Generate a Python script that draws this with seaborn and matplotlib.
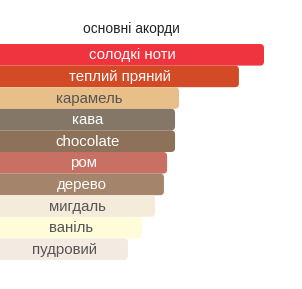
import matplotlib
matplotlib.use("Agg")
import matplotlib.pyplot as plt
from matplotlib.patches import FancyBboxPatch
import seaborn as sns
import pandas as pd

# main accords, strongest first
accords = ["солодкі ноти", "теплий пряний", "карамель", "кава", "chocolate",
           "ром", "дерево", "мигдаль", "ваніль", "пудровий"]
strength = [100, 90.5, 67.8, 66.3, 66.3, 63.3, 62.1, 58.7, 53.8, 48.5]
colors = ["#EF3440", "#D24B26", "#E8BE89", "#857768", "#8D7158",
          "#C97065", "#A4846A", "#F5EBDB", "#FFFCD9", "#F3EAE1"]
text_colors = ["white", "white", "#555555", "white", "white",
               "white", "white", "#555555", "#555555", "#555555"]
title = "основні акорди"

sns.set_theme(style="white")
plt.rcParams["font.family"] = ["Liberation Sans", "DejaVu Sans"]

df = pd.DataFrame({"accord": accords, "strength": strength})

fig = plt.figure(figsize=(3.02, 2.89), dpi=100)
ax = fig.add_axes([0, 1 - 260 / 289, 1, 216 / 289])

sns.barplot(data=df, x="strength", y="accord", hue="accord",
            palette=colors, width=1.0, legend=False, ax=ax)

xmax = 302 / 2.64
ax.set_xlim(0, xmax)
ax.set_ylim(len(accords) - 0.5, -0.5)

# swap the plain bars for ones with rounded right ends
px_x = 302 / xmax
px_y = 216 / len(accords)
aspect = px_x / px_y
for bar, c in zip(list(ax.patches), colors):
    x0, y0 = bar.get_x(), bar.get_y()
    w, h = bar.get_width(), bar.get_height()
    bar.remove()
    ax.add_patch(FancyBboxPatch((x0 - 5, y0), w + 5, h,
                                boxstyle="round,pad=0,rounding_size=1.5",
                                mutation_aspect=aspect,
                                facecolor=c, edgecolor="none"))

for i, (name, val) in enumerate(zip(accords, strength)):
    ax.text(val / 2, i + 0.03, name, ha="center", va="center",
            fontsize=10.8, color=text_colors[i])

ax.axis("off")
fig.text(131.5 / 302, 1 - 29 / 289, title, ha="center", va="center",
         fontsize=9.9, color="#222222")

fig.savefig("out.png", dpi=100)
